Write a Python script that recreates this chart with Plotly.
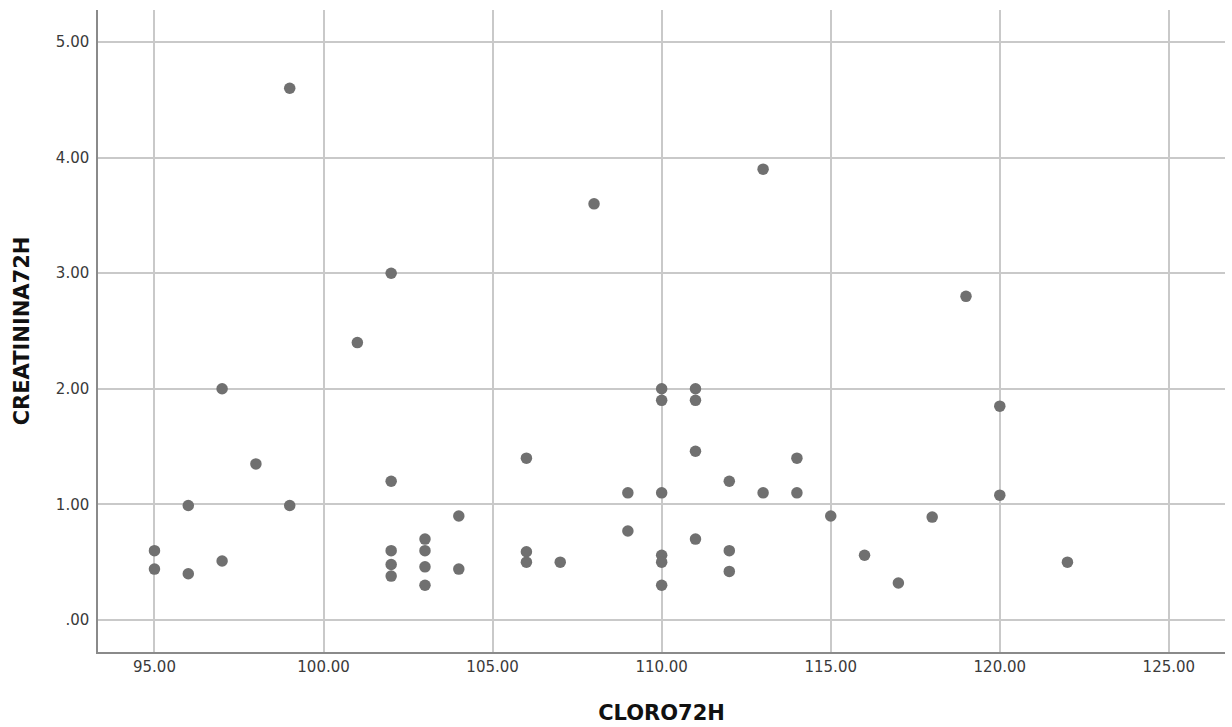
import plotly.graph_objects as go

# CLORO72H (x) and CREATININA72H (y) observations
cloro72h = [
    95, 95,
    96, 96,
    97, 97,
    98,
    99, 99,
    101,
    102, 102, 102, 102, 102,
    103, 103, 103, 103,
    104, 104,
    106, 106, 106,
    107,
    108,
    109, 109,
    110, 110, 110, 110, 110, 110,
    111, 111, 111, 111,
    112, 112, 112,
    113, 113,
    114, 114,
    115,
    116,
    117,
    118,
    119,
    120, 120,
    122,
]
creatinina72h = [
    0.60, 0.44,
    0.99, 0.40,
    2.00, 0.51,
    1.35,
    4.60, 0.99,
    2.40,
    3.00, 1.20, 0.60, 0.48, 0.38,
    0.70, 0.60, 0.46, 0.30,
    0.90, 0.44,
    1.40, 0.59, 0.50,
    0.50,
    3.60,
    1.10, 0.77,
    2.00, 1.90, 1.10, 0.56, 0.50, 0.30,
    2.00, 1.90, 1.46, 0.70,
    1.20, 0.60, 0.42,
    3.90, 1.10,
    1.40, 1.10,
    0.90,
    0.56,
    0.32,
    0.89,
    2.80,
    1.85, 1.08,
    0.50,
]

x_ticks = [95, 100, 105, 110, 115, 120, 125]
x_tick_text = ["95.00", "100.00", "105.00", "110.00", "115.00", "120.00", "125.00"]
y_ticks = [0, 1, 2, 3, 4, 5]
y_tick_text = [".00", "1.00", "2.00", "3.00", "4.00", "5.00"]

grid_color = "#c9c9c9"
axis_color = "#8a8a8a"
label_font = dict(family="DejaVu Sans, sans-serif", size=15, color="#3a3a3a")
title_font = dict(family="DejaVu Sans, sans-serif", size=21, color="#111111")

fig = go.Figure(
    go.Scatter(
        x=cloro72h,
        y=creatinina72h,
        mode="markers",
        marker=dict(size=11.5, color="#707070", line=dict(width=0)),
        hoverinfo="x+y",
    )
)

fig.update_layout(
    width=1232,
    height=727,
    margin=dict(l=98, r=7, t=10, b=75),
    paper_bgcolor="white",
    plot_bgcolor="white",
    showlegend=False,
    xaxis=dict(
        range=[93.33, 126.66],
        tickvals=x_ticks,
        ticktext=x_tick_text,
        tickfont=label_font,
        showgrid=True,
        gridcolor=grid_color,
        gridwidth=1.5,
        zeroline=False,
        showline=True,
        linecolor=axis_color,
        linewidth=1.5,
        ticks="",
        title=dict(text="<b>CLORO72H</b>", font=title_font, standoff=31),
    ),
    yaxis=dict(
        range=[-0.277, 5.277],
        tickvals=y_ticks,
        ticktext=y_tick_text,
        tickfont=label_font,
        showgrid=True,
        gridcolor=grid_color,
        gridwidth=1.5,
        zeroline=False,
        showline=True,
        linecolor=axis_color,
        linewidth=1.5,
        ticks="",
        ticklabelstandoff=4,
        title=dict(text="<b>CREATININA72H</b>", font=title_font, standoff=20),
    ),
)

fig.write_html("out.html")
